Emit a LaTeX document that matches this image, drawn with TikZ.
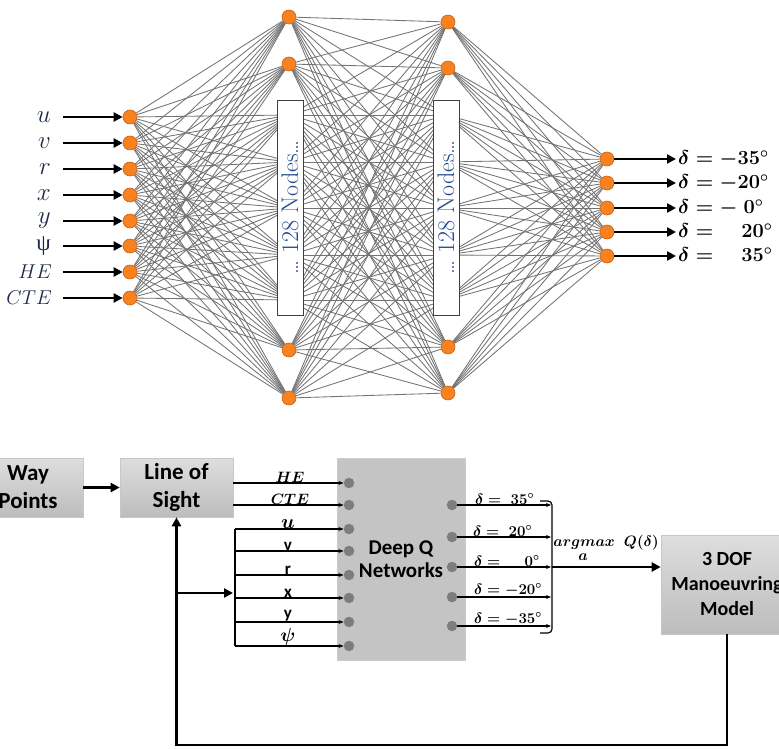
\RequirePackage{fix-cm}
\documentclass[tikz,border=0pt]{standalone}
\usepackage{fontspec}
\setsansfont{Carlito}
\newfontfamily\grkfont{Liberation Serif}
\usetikzlibrary{arrows.meta,backgrounds,calc}
\definecolor{nodeor}{RGB}{247,130,31}
\definecolor{nodeed}{RGB}{205,95,20}
\definecolor{wirecol}{RGB}{115,115,115}
\definecolor{navy}{RGB}{30,40,70}
\definecolor{dqgray}{RGB}{196,196,196}
\definecolor{dotgray}{RGB}{125,125,125}
\definecolor{nodeblue}{RGB}{35,75,145}
\begin{document}
\begin{tikzpicture}[x=1pt,y=-1pt,
  neuron/.style={circle,fill=nodeor,draw=nodeed,line width=0.6pt,minimum size=14pt,inner sep=0pt},
  synapse/.style={draw=wirecol,line width=0.85pt},
  fatarrow/.style={line width=2.4pt,-{Triangle[length=9pt,width=9pt]}},
  thinarrow/.style={line width=1.1pt,-{Stealth[length=5pt,width=4pt]}},
  inlab/.style={anchor=east,text=navy,inner sep=0pt,font=\fontsize{20}{20}\selectfont},
  inlabsmall/.style={anchor=east,text=navy,inner sep=0pt,font=\fontsize{25}{25}\selectfont},
  outlab/.style={anchor=west,inner sep=0pt,font=\fontsize{20}{20}\selectfont\boldmath},
  nodesbox/.style={draw=black!75,line width=0.8pt,fill=white,rotate=90,minimum width=215pt,minimum height=26pt,inner sep=0pt,text=nodeblue,font=\fontsize{24}{24}\selectfont},
  greybox/.style={top color=black!13,bottom color=black!26,draw=black!22,line width=0.6pt,align=center,font=\sffamily\bfseries\fontsize{23}{28}\selectfont,inner sep=0pt},
  dqbox/.style={fill=dqgray,draw=black!20,line width=0.5pt,align=center,font=\sffamily\bfseries\fontsize{21}{23}\selectfont,inner sep=0pt},
  dot/.style={circle,fill=dotgray,minimum size=10.5pt,inner sep=0pt},
  buslab/.style={anchor=south,inner sep=0.8pt,font=\fontsize{15}{15}\selectfont\boldmath},
  sanslab/.style={anchor=south,inner sep=0.8pt,font=\sffamily\bfseries\fontsize{17}{17}\selectfont},
  dlab/.style={anchor=south west,inner sep=0.8pt,font=\fontsize{15}{15}\selectfont\boldmath},
  loopline/.style={line width=2.4pt},
]
\clip (0,0) rectangle (779,749);

% ---------------- top network ----------------
\foreach \i/\y in {1/117,2/143,3/169,4/195,5/221,6/246,7/272,8/298}
  \node[neuron] (i\i) at (130,\y) {};
\foreach \i/\y in {1/17,2/64,8/350,9/398}
  \node[neuron] (a\i) at (289,\y) {};
\foreach \i/\y in {3/115,4/162,5/208,6/255,7/300}
  \coordinate (a\i) at (290,\y);
\foreach \i/\y in {1/22,2/68,8/347,9/393}
  \node[neuron] (b\i) at (448,\y) {};
\foreach \i/\y in {3/115,4/162,5/208,6/255,7/300}
  \coordinate (b\i) at (446,\y);
\foreach \i/\y in {1/159,2/183,3/208,4/232,5/256}
  \node[neuron] (o\i) at (607,\y) {};

\begin{pgfonlayer}{background}
  \foreach \i in {1,...,8}
    \foreach \j in {1,...,9}
      \draw[synapse] (i\i) -- (a\j);
  \foreach \i in {1,...,9}
    \foreach \j in {1,...,9}
      \draw[synapse] (a\i) -- (b\j);
  \foreach \i in {1,...,9}
    \foreach \j in {1,...,5}
      \draw[synapse] (b\i) -- (o\j);
\end{pgfonlayer}

\node[nodesbox] (box1) at (290,207.5) {\dots\ 128 Nodes\dots};
\node[nodesbox] (box2) at (446,207.5) {\dots\ 128 Nodes\dots};

% input labels and arrows
\foreach \i/\t in {1/$u$,2/$v$,3/$r$,4/$x$,5/$y$}{
  \node[inlabsmall] (il\i) at (51,0 |- i\i) {\t};
}
\node[inlab,font=\fontsize{23}{23}\selectfont] (il6) at (51,0 |- i6) {\grkfont ψ};
\node[inlab] (il7) at (52,0 |- i7) {$HE$};
\node[inlab] (il8) at (52,0 |- i8) {$CTE$};
\foreach \i in {1,...,8}{
  \coordinate (is\i) at (63,0 |- i\i);
  \draw[fatarrow] (is\i) -- (i\i);
}
% output arrows and labels
\foreach \i/\t in {1/{$\delta = -35^\circ$},2/{$\delta = -20^\circ$},3/{$\delta = -\ 0^\circ$},4/{$\delta = \phantom{-}\,20^\circ$},5/{$\delta = \phantom{-}\,35^\circ$}}{
  \coordinate (oe\i) at (676,0 |- o\i);
  \draw[fatarrow] (o\i) -- (oe\i);
  \node[outlab] (ol\i) at (678,0 |- o\i) {\t};
}

% ---------------- bottom block diagram ----------------
\node[greybox,minimum width=110pt,minimum height=59pt] (wp) at (28,487.5) {Way\\Points};
\node[greybox,minimum width=113pt,minimum height=59pt] (los) at (176.5,487.5) {Line of\\Sight};
\node[dqbox,minimum width=128pt,minimum height=202pt] (dqn) at (401,559) {Deep Q\\Networks};
\node[greybox,minimum width=132pt,minimum height=99pt,font=\sffamily\bfseries\fontsize{20}{25}\selectfont] (dof) at (727,584.5) {3 DOF\\Manoeuvring\\Model};

\draw[fatarrow] (wp.east |- 0,487.5) -- (los.west |- 0,487.5);

\foreach \i/\y in {1/483,2/505,3/529,4/551,5/575,6/598,7/622,8/646}
  \node[dot] (d\i) at (349,\y) {};
\foreach \i/\y in {1/505,2/537,3/567,4/597,5/626}
  \node[dot] (e\i) at (452,\y) {};

\draw[thinarrow] (los.east |- d1) -- (d1);
\draw[thinarrow] (los.east |- d2) -- (d2);
\node[buslab] (lhe) at (290,0 |- d1) {$HE$};
\node[buslab] (lcte) at (290,0 |- d2) {$CTE$};

\coordinate (busT) at (235,0 |- d3);
\coordinate (busB) at (235,0 |- d8);
\draw[line width=1.1pt] (busT) -- (busB);
\foreach \i in {3,...,8}
  \draw[thinarrow] (235,0 |- d\i) -- (d\i);
\node[buslab,font=\fontsize{20}{20}\selectfont\boldmath] (lu) at (288,0 |- d3) {$u$};
\node[sanslab] (lv) at (288,0 |- d4) {v};
\node[sanslab] (lr) at (288,0 |- d5) {r};
\node[sanslab] (lx) at (288,0 |- d6) {x};
\node[sanslab] (ly) at (288,0 |- d7) {y};
\node[buslab,font=\fontsize{19}{19}\selectfont\boldmath] (lpsi) at (288,0 |- d8) {$\psi$};

\foreach \i in {1,...,5}{
  \coordinate (ee\i) at (551,0 |- e\i);
  \draw[thinarrow] (e\i) -- (ee\i);
}
\node[dlab] (dl1) at (474,0 |- e1) {$\delta =\ 35^\circ$};
\node[dlab] (dl2) at (472,0 |- e2) {$\delta =\ 20^\circ$};
\node[dlab] (dl3) at (473,0 |- e3) {$\delta =\quad\ 0^\circ$};
\node[dlab] (dl4) at (473,0 |- e4) {$\delta = -20^\circ$};
\node[dlab] (dl5) at (473,0 |- e5) {$\delta = -35^\circ$};

\coordinate (brT) at (540,501);
\coordinate (brB) at (540,633);
\draw[line width=1.2pt,rounded corners=4pt] (brT) -- (552,501) -- (552,633) -- (brB);

\coordinate (brM) at (552,0 |- e3);
\draw[fatarrow] (brM) -- (dof.west |- e3);
\node[font=\fontsize{15}{15}\selectfont\boldmath,inner sep=0pt,anchor=base] (amax) at (606,546) {$argmax\ \ Q(\delta)$};
\node[font=\fontsize{15}{15}\selectfont\boldmath,inner sep=0pt,anchor=base] (asub) at (583,560) {$a$};

\coordinate (fbL) at (176.5,745);
\coordinate (br) at (176.5,593);
\draw[loopline,-{Triangle[length=9pt,width=9pt]}] (dof.south) |- (fbL) -- (los.south);
\draw[fatarrow] (br) -- (233,593);
\end{tikzpicture}
\end{document}
